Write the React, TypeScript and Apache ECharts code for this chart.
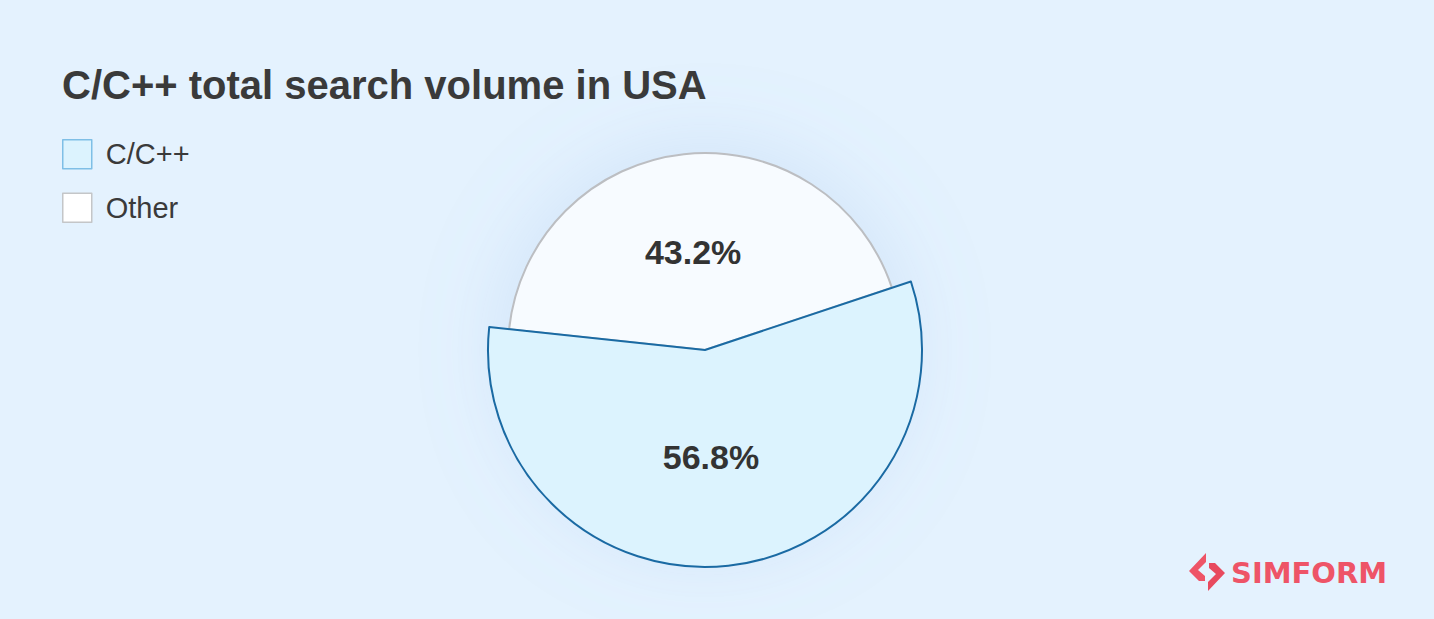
import React, { useEffect, useRef } from "react";
import * as echarts from "echarts";

const titleText = "C/C++ total search volume in USA";
const categories = ["C/C++", "Other"];
const shares = [56.8, 43.2];
const fills = ["#dcf3fe", "#f7fbff"];
const borders = ["#1a6aa3", "#bcbec2"];

const FONT = "'Liberation Sans', Arial, Helvetica, sans-serif";

export default function App() {
  const ref = useRef<HTMLDivElement>(null);
  useEffect(() => {
    document.body.style.margin = "0";
    const chart = echarts.init(ref.current!, null, { renderer: "svg" });
    const startAngle = 18.4;
    const labelStyle = {
      show: true,
      position: "inside",
      formatter: "{c}%",
      fontSize: 34,
      fontWeight: "bold",
      color: "#333333",
      fontFamily: FONT,
    };
    chart.setOption({
      animation: false,
      backgroundColor: "#e4f2fe",
      title: {
        text: titleText,
        left: 57,
        top: 60,
        textStyle: { fontSize: 40, fontWeight: "bold", color: "#3a3a3a", fontFamily: FONT },
      },
      legend: {
        orient: "vertical",
        left: 62,
        top: 139,
        padding: 0,
        itemWidth: 29,
        itemHeight: 29,
        itemGap: 23,
        icon: "rect",
        selectedMode: false,
        textStyle: { fontSize: 29, color: "#3a3a3a", fontFamily: FONT, padding: [0, 0, 0, 9] },
        data: categories.map((c, i) => ({
          name: c,
          itemStyle: { color: i === 0 ? fills[0] : "#ffffff", borderColor: i === 0 ? "#7fbfe6" : "#c4c6c8", borderWidth: 1.5 },
        })),
      },
      series: [
        {
          type: "pie",
          name: "glow",
          center: [705, 350],
          radius: 196,
          startAngle,
          silent: true,
          label: { show: false },
          labelLine: { show: false },
          data: [
            {
              name: "glow",
              value: 1,
              itemStyle: {
                color: "#f7fbff",
                shadowBlur: 90,
                shadowColor: "rgba(120,160,225,0.22)",
              },
            },
          ],
        },
        {
          type: "pie",
          name: "other",
          center: [705, 350],
          radius: 197,
          startAngle,
          silent: true,
          label: labelStyle,
          labelLine: { show: false },
          data: categories.map((c, i) => ({
            name: c,
            value: shares[i],
            label: i === 1 ? { offset: [-1, 3] } : { show: false },
            itemStyle:
              i === 1
                ? { color: fills[1], borderColor: borders[1], borderWidth: 2 }
                : { color: "rgba(0,0,0,0)", borderWidth: 0 },
          })),
        },
        {
          type: "pie",
          name: "main",
          center: [705, 350],
          radius: 217,
          startAngle,
          silent: true,
          label: labelStyle,
          labelLine: { show: false },
          data: categories.map((c, i) => ({
            name: c,
            value: shares[i],
            label: i === 0 ? { offset: [-6, -4] } : { show: false },
            itemStyle:
              i === 0
                ? { color: fills[0], borderColor: borders[0], borderWidth: 2 }
                : { color: "rgba(0,0,0,0)", borderWidth: 0 },
          })),
        },
      ],
      graphic: [
        {
          type: "polygon",
          shape: {
            points: [
              [1206, 553],
              [1206, 562],
              [1198, 570],
              [1205, 576],
              [1205, 581],
              [1199, 581],
              [1189, 571],
            ],
          },
          style: { fill: "#ee5467" },
        },
        {
          type: "polygon",
          shape: {
            points: [
              [1208, 591],
              [1208, 582],
              [1216, 574],
              [1209, 568],
              [1209, 563],
              [1215, 563],
              [1225, 573],
            ],
          },
          style: { fill: "#e84a5e" },
        },
        {
          type: "text",
          x: 1231,
          y: 573,
          style: {
            text: "SIMFORM",
            fontSize: 29,
            fontWeight: "bold",
            fill: "#ee5467",
            fontFamily: "'DejaVu Sans', sans-serif",
            verticalAlign: "middle",
          },
        },
      ],
    });
    return () => chart.dispose();
  }, []);
  return <div ref={ref} style={{ position: "fixed", left: 0, top: 0, width: 1434, height: 619 }} />;
}
